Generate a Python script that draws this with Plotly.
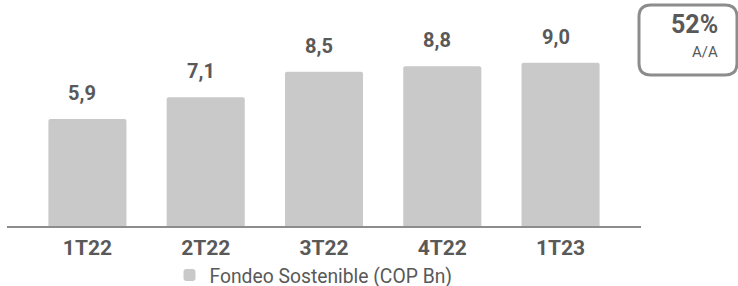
import plotly.graph_objects as go

categories = ["1T22", "2T22", "3T22", "4T22", "1T23"]
values = [5.9, 7.1, 8.5, 8.8, 9.0]
labels = ["5,9", "7,1", "8,5", "8,8", "9,0"]
series_name = "Fondeo Sostenible (COP Bn)"
title_text = "Fondeo Sostenible"
kpi_value = "52%"
kpi_label = "A/A"

W, H = 738, 286
ML, MR, MT, MB = 7, 97, 20, 60
PW = W - ML - MR
PH = H - MT - MB
SCALE = 18.15  # px per unit

def px_x(x):
    return (x - ML) / PW

def px_y(y):
    return (H - MB - y) / PH

fig = go.Figure()
fig.add_trace(go.Bar(
    x=list(range(len(categories))), y=values, name=series_name,
    marker=dict(color="#c9c9c9", line=dict(width=0), cornerradius=2),
    width=0.66,
    showlegend=True,
    hoverinfo="skip",
))

for i, (v, lab) in enumerate(zip(values, labels)):
    fig.add_annotation(x=i, y=v, text=lab, showarrow=False,
                       xanchor="center", yanchor="middle",
                       xshift=-5, yshift=26,
                       font=dict(family="Roboto", size=20, color="#595959",
                                 weight="bold", shadow="0px 0px 2px white"))

# rounded KPI box
x0, x1 = px_x(639), px_x(737)
y0, y1 = px_y(75), px_y(5)
rx, ry = 12 / PW, 12 / PH
path = (f"M {x0+rx},{y1} L {x1-rx},{y1} Q {x1},{y1} {x1},{y1-ry} "
        f"L {x1},{y0+ry} Q {x1},{y0} {x1-rx},{y0} L {x0+rx},{y0} "
        f"Q {x0},{y0} {x0},{y0+ry} L {x0},{y1-ry} Q {x0},{y1} {x0+rx},{y1} Z")
fig.add_shape(type="path", path=path, xref="paper", yref="paper",
              line=dict(color="#8c8c8c", width=3), fillcolor="white")

fig.add_annotation(text=kpi_value, xref="paper", yref="paper",
                   x=px_x(720), y=px_y(24), xanchor="right", yanchor="middle",
                   showarrow=False,
                   font=dict(family="Roboto", size=25, color="#595959", weight="bold"))
fig.add_annotation(text=kpi_label, xref="paper", yref="paper",
                   x=px_x(720), y=px_y(51.5), xanchor="right", yanchor="middle",
                   showarrow=False,
                   font=dict(family="Roboto", size=15, color="#595959"))
fig.add_annotation(text=title_text, xref="paper", yref="paper",
                   x=px_x(346), y=px_y(-10.4), xanchor="center", yanchor="middle",
                   showarrow=False,
                   font=dict(family="Roboto", size=30, color="#595959", weight="bold"))

fig.update_layout(
    width=W, height=H,
    margin=dict(l=ML, r=MR, t=MT, b=MB, autoexpand=False),
    paper_bgcolor="white", plot_bgcolor="white",
    xaxis=dict(range=[-0.68, 4.68], tickmode="array",
               tickvals=list(range(len(categories))), ticktext=categories,
               showgrid=False, zeroline=False, showline=True,
               linecolor="#8c8c8c", linewidth=2, ticks="", ticklen=0,
               ticklabelstandoff=2,
               tickfont=dict(family="Roboto", size=21, color="#595959", weight="bold"),
               fixedrange=True),
    yaxis=dict(range=[0, PH / SCALE], visible=False, fixedrange=True),
    legend=dict(orientation="h", x=px_x(313.5), xanchor="center", y=px_y(275.5), yanchor="middle",
                font=dict(family="Roboto", size=19.3, color="#595959"),
                bgcolor="rgba(0,0,0,0)"),
    showlegend=True,
)

fig.write_html("out.html", config={"displayModeBar": False},
               post_script="document.body.style.margin='0';")
